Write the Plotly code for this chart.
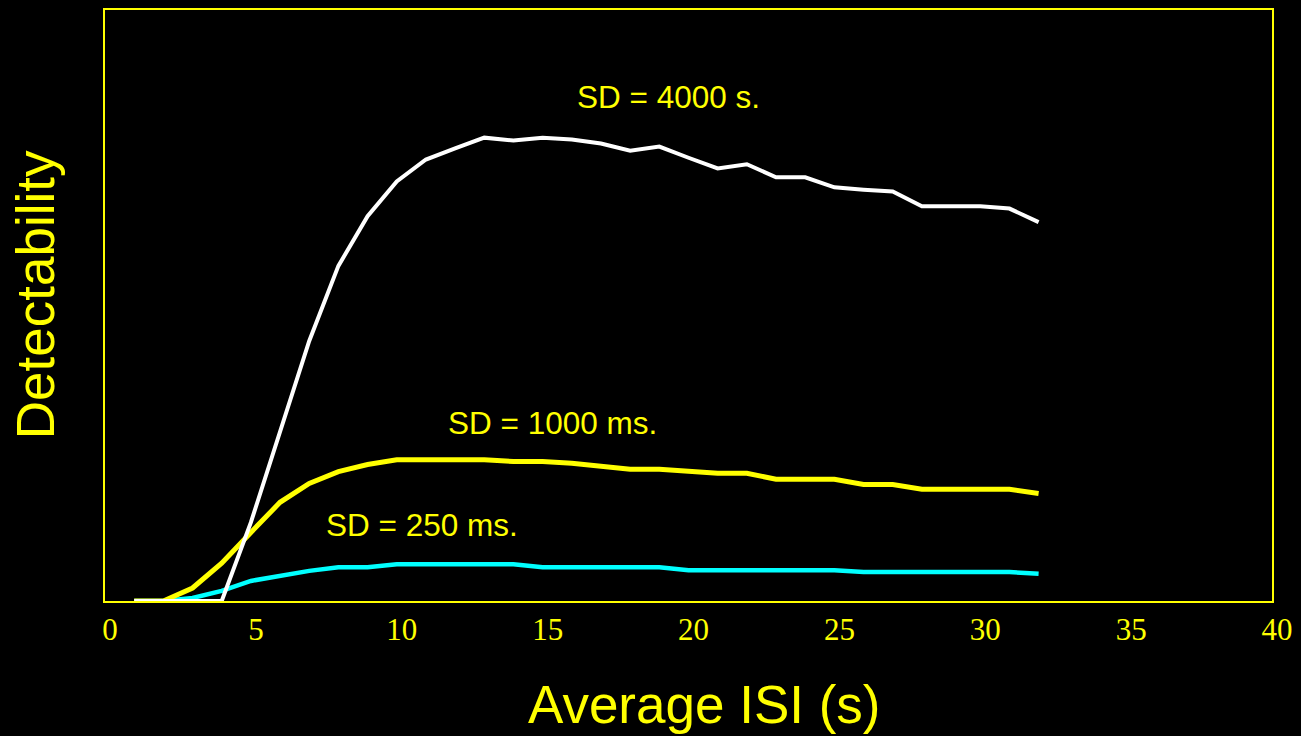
import plotly.graph_objects as go

# Average ISI (s)
isi = list(range(1, 33))

# Detectability for each stimulus SD (arbitrary units)
det_4000s = [0, 0, 0, 0, 13.3, 28.5, 44.0, 56.7, 65.1, 71.0,
             74.7, 76.6, 78.4, 77.9, 78.4, 78.1, 77.4, 76.2, 76.9, 75.0,
             73.2, 73.9, 71.7, 71.7, 70.0, 69.6, 69.3, 66.8, 66.8, 66.8,
             66.4, 64.1]
det_1000ms = [0, 0, 2.2, 6.4, 11.6, 16.7, 19.9, 21.9, 23.1, 23.9,
              23.9, 23.9, 23.9, 23.6, 23.6, 23.3, 22.8, 22.3, 22.3, 21.9,
              21.6, 21.6, 20.6, 20.6, 20.6, 19.7, 19.7, 18.9, 18.9, 18.9,
              18.9, 18.2]
det_250ms = [0, 0, 0.5, 1.7, 3.4, 4.2, 5.1, 5.7, 5.7, 6.2,
             6.2, 6.2, 6.2, 6.2, 5.7, 5.7, 5.7, 5.7, 5.7, 5.2,
             5.2, 5.2, 5.2, 5.2, 5.2, 4.9, 4.9, 4.9, 4.9, 4.9,
             4.9, 4.6]

x_ticks = [0, 5, 10, 15, 20, 25, 30, 35, 40]

# label text and where it sits (data coords)
labels = ["SD = 4000 s.", "SD = 1000 ms.", "SD = 250 ms."]
label_x = [19.3, 15.35, 10.85]
label_y = [85.3, 30.2, 12.9]

YELLOW = "#ffff00"
sans = "Liberation Sans, Arial, sans-serif"
serif = "Liberation Serif, Times New Roman, serif"

fig = go.Figure()

fig.add_trace(go.Scatter(x=isi, y=det_250ms, mode="lines",
                         line=dict(color="#00ffff", width=4.5), name="SD = 250 ms"))
fig.add_trace(go.Scatter(x=isi, y=det_1000ms, mode="lines",
                         line=dict(color=YELLOW, width=5), name="SD = 1000 ms"))
fig.add_trace(go.Scatter(x=isi, y=det_4000s, mode="lines",
                         line=dict(color="#ffffff", width=4), name="SD = 4000 s"))

for txt, lx, ly in zip(labels, label_x, label_y):
    fig.add_annotation(x=lx, y=ly, text=txt, showarrow=False,
                       xanchor="center", yanchor="middle",
                       font=dict(family=sans, size=31.5, color=YELLOW))

# axis titles sit a bit off-centre in the original, so place them by hand
fig.add_annotation(x=0.514, y=-0.175, xref="paper", yref="paper",
                   text="Average ISI (s)", showarrow=False,
                   xanchor="center", yanchor="middle",
                   font=dict(family=sans, size=53, color=YELLOW))
fig.add_annotation(x=-0.06, y=0.519, xref="paper", yref="paper",
                   text="Detectability", showarrow=False, textangle=-90,
                   xanchor="center", yanchor="middle",
                   font=dict(family=sans, size=53, color=YELLOW))

fig.update_layout(
    width=1301, height=736,
    paper_bgcolor="black", plot_bgcolor="black",
    margin=dict(l=105, r=26, t=8, b=135),
    showlegend=False,
)

fig.update_xaxes(
    range=[0, 40], tickvals=x_ticks, showgrid=False, zeroline=False,
    showline=True, mirror=True, linecolor=YELLOW, linewidth=1.5,
    ticks="", ticklabelshift=5,
    tickfont=dict(family=serif, size=31, color=YELLOW),
)
fig.update_yaxes(
    range=[0, 100], showgrid=False, zeroline=False, showticklabels=False,
    showline=True, mirror=True, linecolor=YELLOW, linewidth=1.5, ticks="",
)

# drop the page's default body margin so the black figure fills the window
fig.write_html("out.html", config={"displayModeBar": False},
               post_script="document.body.style.margin='0';"
               "document.body.style.background='black';")
